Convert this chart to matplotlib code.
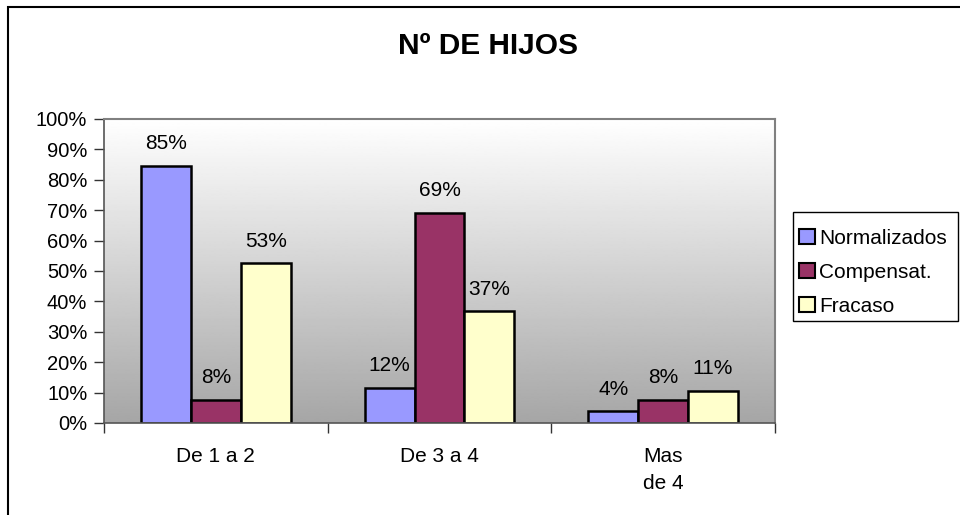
import matplotlib
matplotlib.use("Agg")
import matplotlib.pyplot as plt
import numpy as np
from matplotlib.patches import Rectangle, Patch

categories = ["De 1 a 2", "De 3 a 4", "Mas\nde 4"]
series_names = ["Normalizados", "Compensat.", "Fracaso"]
normalizados = [84.6, 11.6, 3.8]
compensat = [7.7, 69.2, 7.7]
fracaso = [52.6, 36.8, 10.6]
yticks = [0, 10, 20, 30, 40, 50, 60, 70, 80, 90, 100]
colors = ["#9999FF", "#993366", "#FFFFCC"]

plt.rcParams['font.family'] = ['Liberation Sans', 'DejaVu Sans']
FS = 15

W, H = 960, 515
fig = plt.figure(figsize=(W / 100, H / 100), dpi=100)
fig.patch.set_facecolor("white")

left, right, top, bottom = 104, 775, 119, 423
ax = fig.add_axes([left / W, 1 - bottom / H, (right - left) / W, (bottom - top) / H])

# gradient background
grad = np.linspace(1.0, 0.65, 256).reshape(-1, 1)
ax.imshow(grad, cmap="gray", vmin=0, vmax=1, aspect="auto",
          extent=[0, 1, 0, 1], transform=ax.transAxes, zorder=0, interpolation="bilinear")

x = np.arange(len(categories))
bw = 0.223
all_series = [normalizados, compensat, fracaso]
for i, (vals, c, name) in enumerate(zip(all_series, colors, series_names)):
    xs = x + (i - 1) * bw
    ax.bar(xs, vals, width=bw, color=c, edgecolor="black", linewidth=1.8, zorder=2, label=name)
    for xi, v in zip(xs, vals):
        ax.annotate(f"{v:.0f}%", (xi, v), xytext=(0, 9), textcoords="offset points",
                    ha="center", va="bottom", fontsize=FS, zorder=3)

ax.set_xlim(-0.5, 2.5)
ax.set_ylim(0, 100)
ax.set_yticks(yticks)
ax.set_yticklabels([f"{t}%" for t in yticks], fontsize=14.5)
ax.set_xticks(x)
ax.set_xticklabels(categories, fontsize=FS, linespacing=1.55)
ax.tick_params(axis="x", length=0, pad=17)
ax.set_xticks([-0.5, 0.5, 1.5, 2.5], minor=True)
ax.tick_params(axis="x", which="minor", length=7, width=1, color="#333333", direction="out")
ax.tick_params(axis="y", length=7, width=1, color="#333333", direction="out", pad=5)

for s in ["top", "right"]:
    ax.spines[s].set_color("#808080")
    ax.spines[s].set_linewidth(1.5)
for s in ["left", "bottom"]:
    ax.spines[s].set_color("#555555")
    ax.spines[s].set_linewidth(1.2)

handles = [Patch(facecolor=c, edgecolor="black", linewidth=1.5, label=n)
           for c, n in zip(colors, series_names)]
leg = fig.legend(handles=handles, loc="upper left",
                 bbox_to_anchor=(799 / W, 1 - 229 / H), bbox_transform=fig.transFigure,
                 fontsize=FS, frameon=False,
                 handlelength=0.75, handleheight=0.75, handletextpad=0.2,
                 labelspacing=0.72, borderpad=0, borderaxespad=0)

fig.add_artist(Rectangle((793 / W, 1 - 321 / H), (958 - 793) / W, (321 - 212) / H,
                         transform=fig.transFigure, fill=False, edgecolor="black", linewidth=1.0))

fig.text(488 / W, 1 - 46 / H, "Nº DE HIJOS", ha="center", va="center",
         fontsize=21.5, fontweight="bold")

fig.add_artist(Rectangle((8 / W, -0.2), 1.2, 1.2 + (1 - 7 / H) - 1.0, transform=fig.transFigure,
                         fill=False, edgecolor="black", linewidth=1.5))

fig.savefig("out.png", dpi=100)
